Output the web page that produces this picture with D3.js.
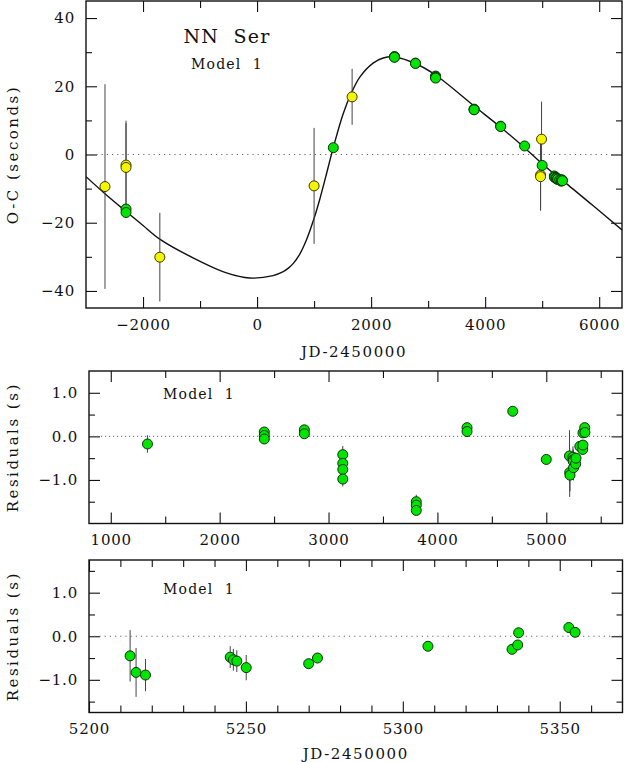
<!DOCTYPE html>
<html>
<head>
<meta charset="utf-8">
<script src="https://cdn.jsdelivr.net/npm/d3@7"></script>
<style>
  body { margin: 0; background: #fff; }
  text { font-family: "DejaVu Serif", serif; fill: #111; }
</style>
</head>
<body>
<svg id="chart" width="624" height="762"></svg>
<script>
// ground based timings (yellow)
var oldJD  = [-2667, -2298, -2298, -1705, 1000, 1667, 4972, 4972, 4989];
var oldOC  = [-9.4, -3.1, -3.8, -30.1, -9.2, 16.9, -6.0, -6.5, 4.5];
var oldErr = [30, 13, 13, 13, 17, 8.2, 10, 10, 11];

// early precise timings, outside the residual windows
var earlyJD  = [-2298, -2298];
var earlyOC  = [-16.0, -17.0];
var earlyErr = [0.8, 0.8];

// precise timings (green)
var greenJD = [1337, 2410, 2410, 2410, 2778, 2778, 3131, 3131, 3131, 3131,
               3806, 3806, 3806, 4272, 4272, 4692, 5000,
               5213.1, 5215.0, 5218.0, 5245.0, 5246.0, 5247.1, 5250.1,
               5270.0, 5272.8, 5308.0, 5334.8, 5336.6, 5336.9, 5352.9, 5354.9];
var greenOC = [2.0, 28.7, 28.6, 28.5, 26.8, 26.7, 23.0, 22.8, 22.6, 22.4,
               13.3, 13.2, 13.1, 8.3, 8.2, 2.5, -3.2,
               -6.3, -6.6, -6.7, -6.8, -6.9, -6.9, -7.1,
               -7.3, -7.2, -7.4, -7.8, -7.7, -7.4, -7.5, -7.7];
var greenRes = [-0.175, 0.10, 0.02, -0.06, 0.15, 0.06, -0.42, -0.62, -0.76, -0.98,
                -1.50, -1.58, -1.70, 0.20, 0.11, 0.575, -0.53,
                -0.45, -0.83, -0.89, -0.48, -0.54, -0.57, -0.72,
                -0.63, -0.50, -0.23, -0.30, -0.20, 0.08, 0.20, 0.09];
var greenErr = [0.2, 0.08, 0.08, 0.08, 0.08, 0.08, 0.2, 0.15, 0.15, 0.17,
                0.16, 0.1, 0.1, 0.08, 0.08, 0.05, 0.08,
                0.59, 0.56, 0.37, 0.25, 0.25, 0.25, 0.29,
                0.06, 0.06, 0.05, 0.1, 0.06, 0.06, 0.06, 0.06];

// model 1 light-travel-time curve
var modelJD = [-3000, -2667, -2298, -2000, -1707, -1123, -537, -128, 281, 450,
               550, 632, 749, 867, 1000, 1100, 1205, 1333, 1509, 1656,
               1802, 2035, 2211, 2416, 2784, 3130, 3806, 4270, 4691, 5000,
               5300, 5430, 6000, 6400];
var modelOC = [-6.5, -11.5, -16.7, -20.8, -24.8, -30.3, -34.7, -36.2, -35.5, -34.4,
               -33.3, -32.0, -29.2, -25.0, -18.7, -13.1, -6.5, 1.8, 11.9, 18.1,
               22.7, 26.8, 28.3, 28.6, 26.6, 23.3, 14.2, 8.0, 2.0, -2.7,
               -6.9, -8.6, -16.5, -22.1];

var svg = d3.select("#chart");

function zip3(xs, ys, es) {
    return xs.map(function(x, i) { return { x: x, y: ys[i], e: es[i] }; });
}

var old_pts = zip3(oldJD, oldOC, oldErr),
    early_pts = zip3(earlyJD, earlyOC, earlyErr),
    green_oc = zip3(greenJD, greenOC, greenErr),
    green_res = zip3(greenJD, greenRes, greenErr);

/**************************** PANEL: FRAME, TICKS, LABELS ********************/
function mk_panel(p) {
    var x = d3.scaleLinear().domain(p.xdom).range(p.xr),
        y = d3.scaleLinear().domain(p.ydom).range([p.yr[1], p.yr[0]]);
    var g = svg.append("g");

    var clip_id = "clip" + p.name;
    svg.append("clipPath").attr("id", clip_id)
      .append("rect")
        .attr("x", p.xr[0]).attr("y", p.yr[0])
        .attr("width", p.xr[1] - p.xr[0]).attr("height", p.yr[1] - p.yr[0]);

    function steps(dom, step) {
        return d3.range(Math.ceil(dom[0] / step - 1e-9) * step, dom[1] + 1e-9, step);
    }
    function inner(vals, dom) {
        // no ticks sitting on the frame itself
        return vals.filter(function(v) {
            return Math.abs(v - dom[0]) > 1e-9 && Math.abs(v - dom[1]) > 1e-9; });
    }
    function not_major(vals, step) {
        return vals.filter(function(v) {
            return Math.abs(v / step - Math.round(v / step)) > 1e-6; });
    }
    var xmaj = inner(steps(p.xdom, p.xmaj), p.xdom),
        xmin = not_major(inner(steps(p.xdom, p.xmin), p.xdom), p.xmaj),
        ymaj = inner(steps(p.ydom, p.ymaj), p.ydom),
        ymin = not_major(inner(steps(p.ydom, p.ymin), p.ydom), p.ymaj);
    if (p.xlabs_at_edges) xmaj = steps(p.xdom, p.xmaj);

    function ax(gen, scale, vals, size, pos, fmt) {
        var a = gen(scale).tickValues(vals).tickSizeInner(-size).tickSizeOuter(0)
            .tickPadding(p.pad);
        a.tickFormat(fmt ? fmt : function() { return ""; });
        var e = g.append("g").attr("transform", pos).call(a);
        e.select(".domain").remove();
        e.selectAll(".tick line").attr("stroke", "#111").attr("stroke-width", 1.1);
        e.selectAll("text").attr("font-size", 15).attr("fill", "#111")
            .attr("font-family", "DejaVu Serif, serif").attr("letter-spacing", 0.8);
        return e;
    }
    var bot = "translate(0," + p.yr[1] + ")", top = "translate(0," + p.yr[0] + ")",
        lft = "translate(" + p.xr[0] + ",0)", rgt = "translate(" + p.xr[1] + ",0)";
    ax(d3.axisBottom, x, xmaj, 11, bot, p.xfmt);
    ax(d3.axisBottom, x, xmin, 7, bot);
    ax(d3.axisTop, x, xmaj, 11, top);
    ax(d3.axisTop, x, xmin, 7, top);
    ax(d3.axisLeft, y, ymaj, 11, lft, p.yfmt);
    ax(d3.axisLeft, y, ymin, 6, lft);
    ax(d3.axisRight, y, ymaj, 11, rgt);
    ax(d3.axisRight, y, ymin, 6, rgt);

    // zero line
    g.append("line")
        .attr("x1", p.xr[0]).attr("x2", p.xr[1])
        .attr("y1", y(0)).attr("y2", y(0))
        .attr("stroke", "#666").attr("stroke-width", 1)
        .attr("stroke-dasharray", p.dash);

    g.append("rect")
        .attr("x", p.xr[0]).attr("y", p.yr[0])
        .attr("width", p.xr[1] - p.xr[0]).attr("height", p.yr[1] - p.yr[0])
        .attr("fill", "none").attr("stroke", "#111").attr("stroke-width", 1.4);

    g.append("text")
        .attr("transform", "translate(18," + ((p.yr[0] + p.yr[1]) / 2) + ") rotate(-90)")
        .attr("text-anchor", "middle").attr("font-size", 15).attr("letter-spacing", 2.5)
        .text(p.ylabel);
    if (p.xlabel)
        g.append("text")
            .attr("x", (p.xr[0] + p.xr[1]) / 2).attr("y", p.xlab_y)
            .attr("text-anchor", "middle").attr("font-size", 15).attr("letter-spacing", 1.6)
            .text(p.xlabel);

    var plot = svg.append("g").attr("clip-path", "url(#" + clip_id + ")");
    return { x: x, y: y, g: plot };
}

function draw_points(pan, pts, fill, stroke) {
    pan.g.append("g").selectAll("line")
        .data(pts)
      .enter().append("line")
        .attr("x1", function(d) { return pan.x(d.x); })
        .attr("x2", function(d) { return pan.x(d.x); })
        .attr("y1", function(d) { return pan.y(d.y - d.e); })
        .attr("y2", function(d) { return pan.y(d.y + d.e); })
        .attr("stroke", "#444").attr("stroke-width", 1);
    pan.g.append("g").selectAll("circle")
        .data(pts)
      .enter().append("circle")
        .attr("cx", function(d) { return pan.x(d.x); })
        .attr("cy", function(d) { return pan.y(d.y); })
        .attr("r", 5)
        .attr("fill", fill).attr("stroke", stroke).attr("stroke-width", 1);
}

function note(txt, cx, by, size) {
    svg.append("text").attr("x", cx).attr("y", by)
        .attr("text-anchor", "middle").attr("font-size", size)
        .attr("letter-spacing", 1.2).attr("xml:space", "preserve")
        .text(txt);
}

var GREEN = "#00e400", YELLOW = "#f5f500";

/**************************** TOP: O-C WITH MODEL ****************************/
var p1 = mk_panel({ name: "oc", xr: [86, 622], yr: [1, 308],
    xdom: [-3000, 6400], ydom: [-45, 45], xmaj: 2000, xmin: 1000, ymaj: 20, ymin: 10,
    xfmt: d3.format("d"), yfmt: d3.format("d"), pad: 11, dash: "1.2,4",
    ylabel: "O-C (seconds)", xlabel: "JD-2450000", xlab_y: 357 });

p1.g.append("path")
    .datum(modelJD.map(function(v, i) { return [v, modelOC[i]]; }))
    .attr("fill", "none").attr("stroke", "#111").attr("stroke-width", 1.4)
    .attr("d", d3.line()
        .x(function(d) { return p1.x(d[0]); })
        .y(function(d) { return p1.y(d[1]); })
        .curve(d3.curveCatmullRom));

draw_points(p1, old_pts, YELLOW, "#3a3a00");
draw_points(p1, early_pts, GREEN, "#0b330b");
draw_points(p1, green_oc, GREEN, "#0b330b");
note("NN  Ser", 227, 43, 19);
note("Model  1", 227, 69, 14);

/**************************** MIDDLE: ALL RESIDUALS **************************/
var p2 = mk_panel({ name: "res", xr: [89, 622.5], yr: [371, 523.5],
    xdom: [800, 5700], ydom: [-2, 1.5], xmaj: 1000, xmin: 500, ymaj: 1, ymin: 0.5,
    xfmt: d3.format("d"), yfmt: d3.format(".1f"), pad: 11, dash: "1.2,2.8",
    ylabel: "Residuals (s)" });
draw_points(p2, green_res, GREEN, "#0b330b");
note("Model  1", 199, 399, 14);

/**************************** BOTTOM: RECENT RESIDUALS ***********************/
var p3 = mk_panel({ name: "res2", xr: [89, 622.5], yr: [560, 712.5],
    xdom: [5200, 5370], ydom: [-1.75, 1.75], xmaj: 50, xmin: 10, ymaj: 1, ymin: 0.5,
    xfmt: d3.format("d"), yfmt: d3.format(".1f"), pad: 11, dash: "1.2,4",
    ylabel: "Residuals (s)", xlabel: "JD-2450000", xlab_y: 759, xlabs_at_edges: true });
draw_points(p3, green_res, GREEN, "#0b330b");
note("Model  1", 199, 594, 14);
</script>
</body>
</html>
